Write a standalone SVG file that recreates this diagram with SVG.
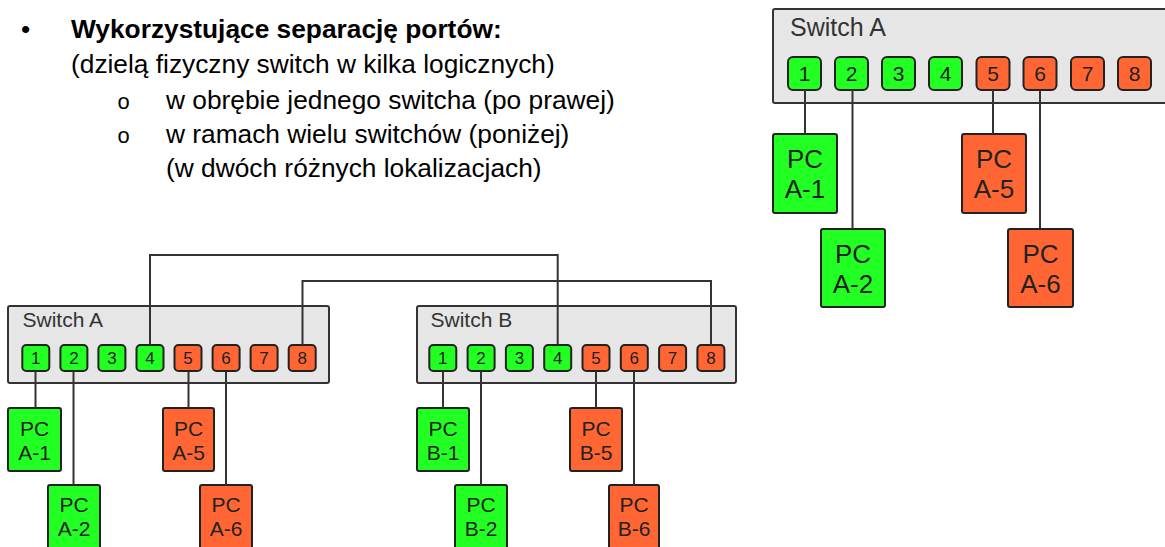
<svg xmlns="http://www.w3.org/2000/svg" width="1165" height="547" viewBox="0 0 1165 547">
  <style>
    .txt { font-family: "Liberation Sans", Arial, sans-serif; fill: #000; font-size: 26.3px; }
    .bold { font-weight: bold; }
    .mark { font-family: "Liberation Mono", "Courier New", monospace; fill: #000; font-size: 22px; }
    .sw { fill: #e6e6e6; stroke: #333; stroke-width: 2; }
    .swlbl { font-family: "Liberation Sans", Arial, sans-serif; fill: #333; }
    .pg { fill: #22ff22; stroke: #222; stroke-width: 2; }
    .po { fill: #ff6633; stroke: #222; stroke-width: 2; }
    .pnum { font-family: "Liberation Sans", Arial, sans-serif; fill: #222; text-anchor: middle; }
    .pclbl { font-family: "Liberation Sans", Arial, sans-serif; fill: #222; text-anchor: middle; }
    .wire { fill: none; stroke: #333; stroke-width: 2; }
  </style>

  <!-- Bulleted description -->
  <g id="description">
    <text class="txt" x="21" y="38">•</text>
    <text class="txt bold" x="71" y="38">Wykorzystujące separację portów:</text>
    <text class="txt" x="71" y="73">(dzielą fizyczny switch w kilka logicznych)</text>
    <text class="mark" x="117" y="109">o</text>
    <text class="txt" x="166" y="109">w obrębie jednego switcha (po prawej)</text>
    <text class="mark" x="117" y="143">o</text>
    <text class="txt" x="166" y="143">w ramach wielu switchów (poniżej)</text>
    <text class="txt" x="166" y="177">(w dwóch różnych lokalizacjach)</text>
  </g>

  <!-- Single switch, top right -->
  <g id="switch-right">
    <rect class="sw" x="773" y="9" width="410" height="94" rx="2"/>
    <text class="swlbl" x="790" y="36" font-size="25">Switch A</text>
    <g font-size="21">
      <rect class="pg" x="788" y="57" width="33" height="33" rx="5"/><text class="pnum" x="804.5" y="81">1</text>
      <rect class="pg" x="835" y="57" width="33" height="33" rx="5"/><text class="pnum" x="851.5" y="81">2</text>
      <rect class="pg" x="882" y="57" width="33" height="33" rx="5"/><text class="pnum" x="898.5" y="81">3</text>
      <rect class="pg" x="929" y="57" width="33" height="33" rx="5"/><text class="pnum" x="945.5" y="81">4</text>
      <rect class="po" x="976.5" y="57" width="33" height="33" rx="5"/><text class="pnum" x="993" y="81">5</text>
      <rect class="po" x="1023.5" y="57" width="33" height="33" rx="5"/><text class="pnum" x="1040" y="81">6</text>
      <rect class="po" x="1071" y="57" width="33" height="33" rx="5"/><text class="pnum" x="1087.5" y="81">7</text>
      <rect class="po" x="1118" y="57" width="33" height="33" rx="5"/><text class="pnum" x="1134.5" y="81">8</text>
    </g>
  </g>
  <g id="pc-r-a1"><rect class="pg" x="773" y="134" width="64" height="79" rx="2"/><text class="pclbl" font-size="26" x="805" y="168">PC</text><text class="pclbl" font-size="26" x="805" y="198">A-1</text></g>
  <g id="pc-r-a2"><rect class="pg" x="821" y="229" width="64" height="78" rx="2"/><text class="pclbl" font-size="26" x="853" y="263">PC</text><text class="pclbl" font-size="26" x="853" y="293">A-2</text></g>
  <g id="pc-r-a5"><rect class="po" x="962" y="134" width="64" height="79" rx="2"/><text class="pclbl" font-size="26" x="994" y="168">PC</text><text class="pclbl" font-size="26" x="994" y="198">A-5</text></g>
  <g id="pc-r-a6"><rect class="po" x="1008" y="229" width="65" height="78" rx="2"/><text class="pclbl" font-size="26" x="1040.5" y="263">PC</text><text class="pclbl" font-size="26" x="1040.5" y="293">A-6</text></g>

  <!-- Two switches, bottom -->
  <g id="switch-a">
    <rect class="sw" x="8" y="306" width="321" height="77" rx="2"/>
    <text class="swlbl" x="22.5" y="327" font-size="21">Switch A</text>
    <g font-size="17">
      <rect class="pg" x="22.3" y="345" width="27" height="26" rx="4"/><text class="pnum" x="35.8" y="364">1</text>
      <rect class="pg" x="60.4" y="345" width="27" height="26" rx="4"/><text class="pnum" x="73.9" y="364">2</text>
      <rect class="pg" x="98.4" y="345" width="27" height="26" rx="4"/><text class="pnum" x="111.9" y="364">3</text>
      <rect class="pg" x="136.5" y="345" width="27" height="26" rx="4"/><text class="pnum" x="150" y="364">4</text>
      <rect class="po" x="174.5" y="345" width="27" height="26" rx="4"/><text class="pnum" x="188" y="364">5</text>
      <rect class="po" x="212.6" y="345" width="27" height="26" rx="4"/><text class="pnum" x="226.1" y="364">6</text>
      <rect class="po" x="250.6" y="345" width="27" height="26" rx="4"/><text class="pnum" x="264.1" y="364">7</text>
      <rect class="po" x="288.7" y="345" width="27" height="26" rx="4"/><text class="pnum" x="302.2" y="364">8</text>
    </g>
  </g>
  <g id="switch-b">
    <rect class="sw" x="417" y="306" width="319" height="77" rx="2"/>
    <text class="swlbl" x="430.5" y="327" font-size="21">Switch B</text>
    <g font-size="17">
      <rect class="pg" x="429.3" y="345" width="27" height="26" rx="4"/><text class="pnum" x="442.8" y="364">1</text>
      <rect class="pg" x="467.6" y="345" width="27" height="26" rx="4"/><text class="pnum" x="481.1" y="364">2</text>
      <rect class="pg" x="505.9" y="345" width="27" height="26" rx="4"/><text class="pnum" x="519.4" y="364">3</text>
      <rect class="pg" x="544.2" y="345" width="27" height="26" rx="4"/><text class="pnum" x="557.7" y="364">4</text>
      <rect class="po" x="582.5" y="345" width="27" height="26" rx="4"/><text class="pnum" x="596" y="364">5</text>
      <rect class="po" x="620.8" y="345" width="27" height="26" rx="4"/><text class="pnum" x="634.3" y="364">6</text>
      <rect class="po" x="659.1" y="345" width="27" height="26" rx="4"/><text class="pnum" x="672.6" y="364">7</text>
      <rect class="po" x="697.4" y="345" width="27" height="26" rx="4"/><text class="pnum" x="710.9" y="364">8</text>
    </g>
  </g>
  <g id="pc-a1"><rect class="pg" x="8" y="408" width="53" height="63" rx="2"/><text class="pclbl" font-size="21" x="34.5" y="436">PC</text><text class="pclbl" font-size="21" x="34.5" y="460">A-1</text></g>
  <g id="pc-a2"><rect class="pg" x="48" y="485" width="52" height="64" rx="2"/><text class="pclbl" font-size="21" x="74" y="512">PC</text><text class="pclbl" font-size="21" x="74" y="536">A-2</text></g>
  <g id="pc-a5"><rect class="po" x="163" y="408" width="51" height="63" rx="2"/><text class="pclbl" font-size="21" x="188.5" y="436">PC</text><text class="pclbl" font-size="21" x="188.5" y="460">A-5</text></g>
  <g id="pc-a6"><rect class="po" x="200" y="485" width="52" height="64" rx="2"/><text class="pclbl" font-size="21" x="226" y="512">PC</text><text class="pclbl" font-size="21" x="226" y="536">A-6</text></g>
  <g id="pc-b1"><rect class="pg" x="417" y="408" width="52" height="63" rx="2"/><text class="pclbl" font-size="21" x="443" y="436">PC</text><text class="pclbl" font-size="21" x="443" y="460">B-1</text></g>
  <g id="pc-b2"><rect class="pg" x="455" y="485" width="52" height="64" rx="2"/><text class="pclbl" font-size="21" x="481" y="512">PC</text><text class="pclbl" font-size="21" x="481" y="536">B-2</text></g>
  <g id="pc-b5"><rect class="po" x="570" y="408" width="52" height="63" rx="2"/><text class="pclbl" font-size="21" x="596" y="436">PC</text><text class="pclbl" font-size="21" x="596" y="460">B-5</text></g>
  <g id="pc-b6"><rect class="po" x="609" y="485" width="50" height="64" rx="2"/><text class="pclbl" font-size="21" x="634" y="512">PC</text><text class="pclbl" font-size="21" x="634" y="536">B-6</text></g>

  <!-- Cabling -->
  <g id="connectors" class="wire">
    <path class="wire" d="M805 90 V134"/>
    <path class="wire" d="M852.5 90 V229"/>
    <path class="wire" d="M993 90 V134"/>
    <path class="wire" d="M1040 90 V229"/>

    <path class="wire" d="M35.5 371 V408"/>
    <path class="wire" d="M73.5 371 V485"/>
    <path class="wire" d="M188.5 371 V408"/>
    <path class="wire" d="M226 371 V485"/>
    <path class="wire" d="M443 371 V408"/>
    <path class="wire" d="M481 371 V485"/>
    <path class="wire" d="M596 371 V408"/>
    <path class="wire" d="M634 371 V485"/>

    <path class="wire" d="M150 345 V255 H557.7 V345"/>
    <path class="wire" d="M302.5 345 V281 H711 V345"/>
  </g>
</svg>
